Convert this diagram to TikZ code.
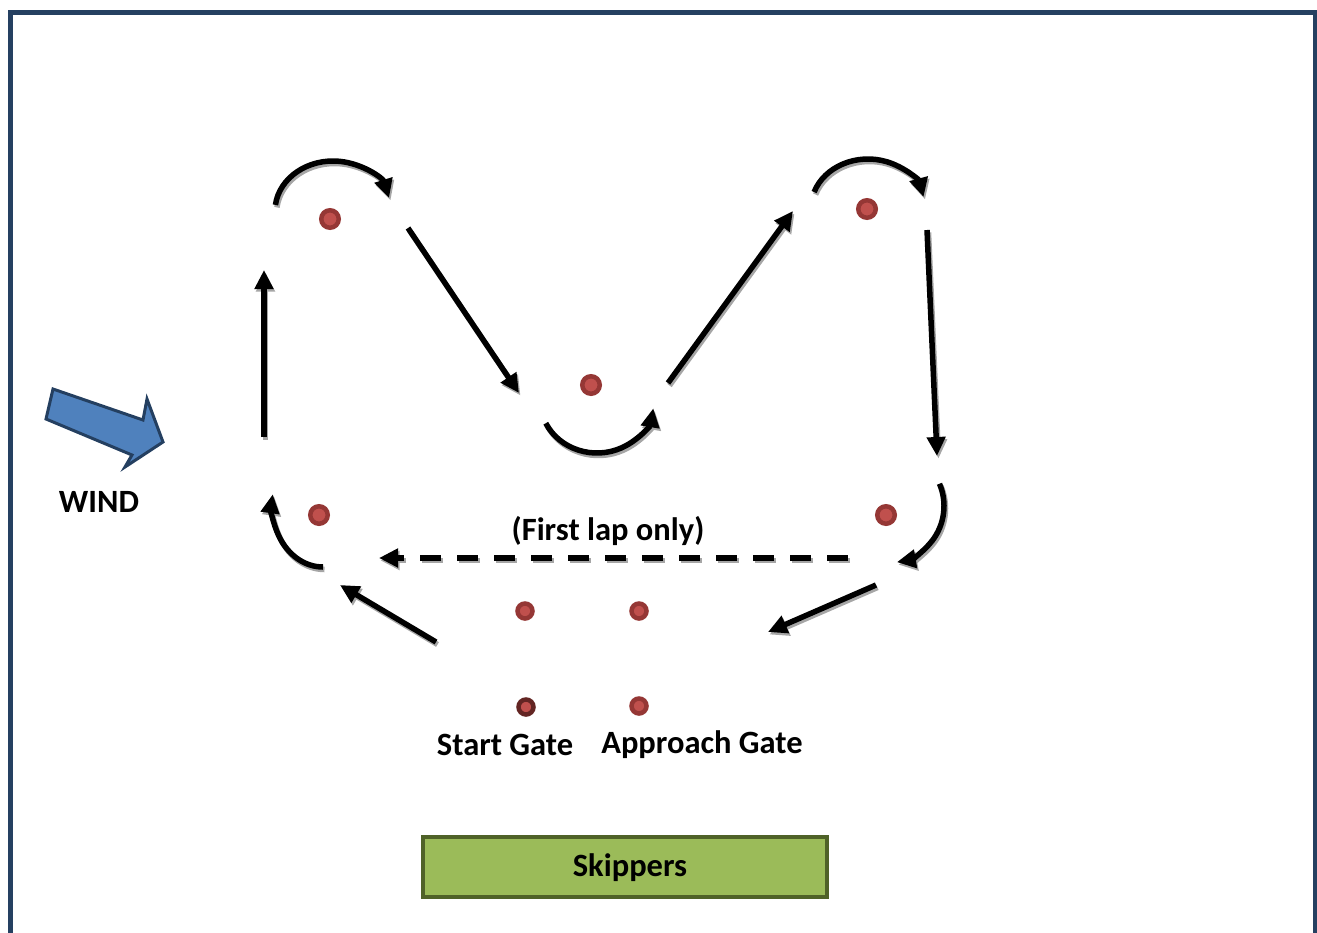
\documentclass[tikz,border=0pt]{standalone}
\usepackage{fontspec}
\setmainfont{Carlito}
\usetikzlibrary{arrows.meta}
\definecolor{framecol}{HTML}{254061}
\definecolor{buoyring}{HTML}{953735}
\definecolor{buoycore}{HTML}{C0504D}
\definecolor{gatering}{HTML}{632523}
\definecolor{windfill}{HTML}{4F81BD}
\definecolor{windline}{HTML}{243F60}
\definecolor{boxfill}{HTML}{9BBB59}
\definecolor{boxline}{HTML}{4F6228}
% a course leg: grey offset shadow first, then the black line on top
\newcommand\courseleg[2][]{%
  \draw[legshade,#1] #2;
  \draw[leg,#1] #2;}
\begin{document}
\begin{tikzpicture}[x=1pt,y=-1pt,
  leg/.style={line width=5.5pt, -{Triangle[length=19pt,width=18pt]}},
  legshade/.style={leg, draw=black!35, transform canvas={xshift=1.5pt,yshift=-2.5pt}},
  firstlap/.style={dash pattern=on 21pt off 16pt},
  bigbuoy/.style={circle, inner sep=0pt, minimum size=17.5pt, line width=4.5pt, draw=buoyring, fill=buoycore},
  gatebuoy/.style={circle, inner sep=0pt, minimum size=15pt, line width=4.5pt, draw=buoyring, fill=buoycore},
  label/.style={inner sep=0pt, font=\fontsize{32.5}{38}\selectfont\bfseries}]
\useasboundingbox (0,0) rectangle (1317,932);

% outer frame (open at the bottom)
\draw[framecol, line width=4.5pt] (10.5,940) -- (10.5,12.5) -- (1315,12.5) -- (1315,940);

% buoys
\node[bigbuoy] (m1) at (330,219) {};
\node[bigbuoy] (m2) at (591,385) {};
\node[bigbuoy] (m3) at (867,209) {};
\node[bigbuoy] (m4) at (319,515) {};
\node[bigbuoy] (m5) at (886,515) {};
\node[gatebuoy] (g1) at (525,611) {};
\node[gatebuoy] (g2) at (639,611) {};
\node[gatebuoy, draw=gatering] (g3) at (526,707) {};
\node[gatebuoy] (g4) at (639,706) {};

% wind indicator
\draw[windline, fill=windfill, line width=3pt, line join=miter]
  (53,389) -- (143,420) -- (147,399) -- (163,442) -- (125,467) -- (132,455) -- (46,419) -- cycle;

% labels
\node[label] (wind) at (99,502) {WIND};
\node[label] (lap) at (608,531) {(First lap only)};
\node[label] (start) at (505,745) {Start Gate};
\node[label] (approach) at (702,745) {Approach Gate};
\node[draw=boxline, fill=boxfill, line width=4pt, minimum width=404pt, minimum height=60pt]
  (skipbox) at (625,867) {};
\node[label] (skippers) at (630,868) {Skippers};

% leg end points
\coordinate (a1) at (264,437);  \coordinate (b1) at (264,270);
\coordinate (a3) at (408,228);  \coordinate (b3) at (519,393);
\coordinate (a5) at (668,383);  \coordinate (b5) at (793,211);
\coordinate (a7) at (927,230);  \coordinate (b7) at (937,456);
\coordinate (a9) at (876,585);  \coordinate (b9) at (768,632);
\coordinate (a10) at (436,642); \coordinate (b10) at (340,585);
\coordinate (a12) at (848,558); \coordinate (b12) at (379,558);

% straight legs
\courseleg{(a1) -- (b1)}
\courseleg{(a3) -- (b3)}
\courseleg{(a5) -- (b5)}
\courseleg{(a7) -- (b7)}
\courseleg{(a9) -- (b9)}
\courseleg{(a10) -- (b10)}
\courseleg[firstlap]{(a12) -- (b12)}

% roundings
\courseleg{([shift={(187:58 and 50)}]333,211) arc[start angle=187, end angle=345, x radius=58, y radius=50]}
\courseleg{([shift={(154:57 and 53)}]597,400) arc[start angle=154, end angle=9, x radius=57, y radius=53]}
\courseleg{([shift={(199:57 and 49)}]868,208) arc[start angle=199, end angle=347, x radius=57, y radius=49]}
\courseleg{([shift={(-23:57)}]887,506) arc[start angle=-23, end angle=80, radius=57]}
\courseleg{([shift={(90:51 and 62)}]323,505) arc[start angle=90, end angle=190, x radius=51, y radius=62]}
\end{tikzpicture}
\end{document}
